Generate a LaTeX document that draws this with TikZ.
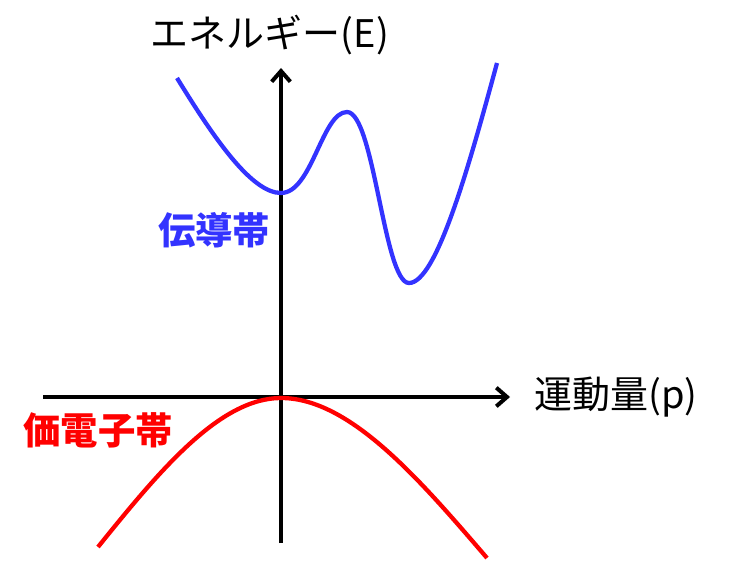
\documentclass[tikz,border=0pt]{standalone}
\usepackage{fontspec}
\usepackage{xcolor}
\usepackage{tikz}
\usetikzlibrary{arrows.meta,positioning}
\newfontfamily\jpfont{Noto Sans CJK JP}
\definecolor{bandblue}{HTML}{3333FF}
\definecolor{bandred}{HTML}{FF0000}

\begin{document}
\begin{tikzpicture}[
          x=0.75pt, y=-0.75pt,
          axis/.style={line width=3pt, -{Straight Barb[length=8pt,width=14pt,line width=3pt]}},
          band/.style={line width=3.2pt},
          lbl/.style={font=\jpfont\fontsize{28.5}{30}\selectfont, inner sep=0pt},
          bandlbl/.style={lbl, font=\jpfont\bfseries\fontsize{28}{30}\selectfont}
      ]
        \useasboundingbox (0,0) rectangle (738,563);

        % axes
        \coordinate (xstart) at (43,397);
        \coordinate (xend) at (510,397);
        \coordinate (ystart) at (281,543);
        \coordinate (yend) at (281,68);
        \draw[axis] (xstart) -- (xend);
        \draw[axis] (ystart) -- (yend);
        \node[lbl] (ylabel) at (270,35) {エネルギー(E)};
        \node[lbl, right=18pt of xend] (xlabel) {運動量(p)};

        % conduction band
        \draw[band, bandblue] (177,78) .. controls (215,140) and (252,193) .. (281,193)
          .. controls (312,193) and (322,112) .. (347,112)
          .. controls (374,112) and (384,283) .. (409,283)
          .. controls (436,283) and (468,170) .. (497,63);
        \node[bandlbl, text=bandblue] (cband) at (214,230) {伝導帯};

        % valence band
        \draw[band, bandred] (98,547) .. controls (160,470) and (220,398) .. (281,398)
          .. controls (350,398) and (420,480) .. (487,558);
        \node[bandlbl, text=bandred] (vband) at (98,430) {価電子帯};
      \end{tikzpicture}
\end{document}
